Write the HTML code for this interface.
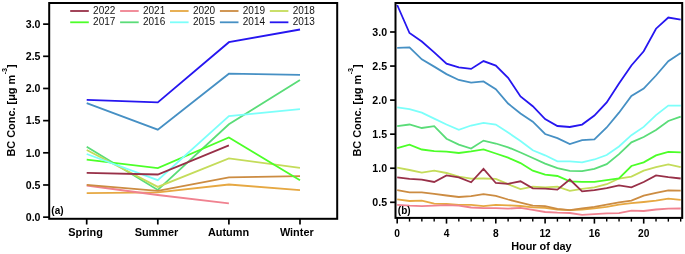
<!DOCTYPE html><html><head><meta charset="utf-8"><style>html,body{margin:0;padding:0;background:#fff;}svg{display:block;will-change:transform;}text{font-family:"Liberation Sans",sans-serif;}</style></head><body>
<svg width="685" height="254" viewBox="0 0 685 254">
<rect width="685" height="254" fill="#fff"/>
<clipPath id="cl"><rect x="49.2" y="3.0" width="288.0" height="215.8"/></clipPath>
<g clip-path="url(#cl)">
<polyline points="86.7,99.8 157.8,102.4 228.9,42.2 300.0,29.5" fill="none" stroke="#2616F0" stroke-width="1.8" stroke-linejoin="miter" stroke-miterlimit="3"/>
<polyline points="86.7,103.1 157.8,129.7 228.9,73.7 300.0,74.8" fill="none" stroke="#4690C4" stroke-width="1.8" stroke-linejoin="miter" stroke-miterlimit="3"/>
<polyline points="86.7,146.7 157.8,190.0 228.9,124.3 300.0,79.9" fill="none" stroke="#5ADC78" stroke-width="1.8" stroke-linejoin="miter" stroke-miterlimit="3"/>
<polyline points="86.7,150.0 157.8,186.9 228.9,158.4 300.0,167.9" fill="none" stroke="#C4DC5A" stroke-width="1.8" stroke-linejoin="miter" stroke-miterlimit="3"/>
<polyline points="86.7,193.1 157.8,192.4 228.9,184.5 300.0,190.2" fill="none" stroke="#E6A842" stroke-width="1.8" stroke-linejoin="miter" stroke-miterlimit="3"/>
<polyline points="86.7,185.5 157.8,195.0 228.9,203.4" fill="none" stroke="#F08290" stroke-width="1.8" stroke-linejoin="miter" stroke-miterlimit="3"/>
<polyline points="86.7,184.8 157.8,190.8 228.9,177.3 300.0,176.2" fill="none" stroke="#CC8C42" stroke-width="1.8" stroke-linejoin="miter" stroke-miterlimit="3"/>
<polyline points="86.7,159.6 157.8,168.2 228.9,137.5 300.0,180.2" fill="none" stroke="#4CFF28" stroke-width="1.8" stroke-linejoin="miter" stroke-miterlimit="3"/>
<polyline points="86.7,154.0 157.8,180.2 228.9,116.0 300.0,109.1" fill="none" stroke="#7CFFFA" stroke-width="1.8" stroke-linejoin="miter" stroke-miterlimit="3"/>
<polyline points="86.7,172.8 157.8,174.5 228.9,145.4" fill="none" stroke="#983048" stroke-width="1.8" stroke-linejoin="miter" stroke-miterlimit="3"/>
</g>
<line x1="70.2" y1="11.0" x2="88.8" y2="11.0" stroke="#983048" stroke-width="1.8"/>
<text x="93.1" y="13.75" font-size="10.0" fill="#111">2022</text>
<line x1="120.1" y1="11.0" x2="138.7" y2="11.0" stroke="#F08290" stroke-width="1.8"/>
<text x="143.0" y="13.75" font-size="10.0" fill="#111">2021</text>
<line x1="170.0" y1="11.0" x2="188.6" y2="11.0" stroke="#E6A842" stroke-width="1.8"/>
<text x="192.9" y="13.75" font-size="10.0" fill="#111">2020</text>
<line x1="219.9" y1="11.0" x2="238.5" y2="11.0" stroke="#CC8C42" stroke-width="1.8"/>
<text x="242.8" y="13.75" font-size="10.0" fill="#111">2019</text>
<line x1="269.8" y1="11.0" x2="288.4" y2="11.0" stroke="#C4DC5A" stroke-width="1.8"/>
<text x="292.7" y="13.75" font-size="10.0" fill="#111">2018</text>
<line x1="70.2" y1="22.3" x2="88.8" y2="22.3" stroke="#4CFF28" stroke-width="1.8"/>
<text x="93.1" y="25.05" font-size="10.0" fill="#111">2017</text>
<line x1="120.1" y1="22.3" x2="138.7" y2="22.3" stroke="#5ADC78" stroke-width="1.8"/>
<text x="143.0" y="25.05" font-size="10.0" fill="#111">2016</text>
<line x1="170.0" y1="22.3" x2="188.6" y2="22.3" stroke="#7CFFFA" stroke-width="1.8"/>
<text x="192.9" y="25.05" font-size="10.0" fill="#111">2015</text>
<line x1="219.9" y1="22.3" x2="238.5" y2="22.3" stroke="#4690C4" stroke-width="1.8"/>
<text x="242.8" y="25.05" font-size="10.0" fill="#111">2014</text>
<line x1="269.8" y1="22.3" x2="288.4" y2="22.3" stroke="#2616F0" stroke-width="1.8"/>
<text x="292.7" y="25.05" font-size="10.0" fill="#111">2013</text>
<rect x="49.2" y="3.0" width="288.0" height="215.8" fill="none" stroke="#000" stroke-width="2.0"/>
<line x1="43.1" y1="217.15" x2="49.2" y2="217.15" stroke="#000" stroke-width="1.7"/>
<text x="40.5" y="220.90" font-size="10.6" font-weight="bold" text-anchor="end" fill="#000">0.0</text>
<line x1="43.1" y1="184.98" x2="49.2" y2="184.98" stroke="#000" stroke-width="1.7"/>
<text x="40.5" y="188.73" font-size="10.6" font-weight="bold" text-anchor="end" fill="#000">0.5</text>
<line x1="43.1" y1="152.81" x2="49.2" y2="152.81" stroke="#000" stroke-width="1.7"/>
<text x="40.5" y="156.56" font-size="10.6" font-weight="bold" text-anchor="end" fill="#000">1.0</text>
<line x1="43.1" y1="120.64" x2="49.2" y2="120.64" stroke="#000" stroke-width="1.7"/>
<text x="40.5" y="124.39" font-size="10.6" font-weight="bold" text-anchor="end" fill="#000">1.5</text>
<line x1="43.1" y1="88.47" x2="49.2" y2="88.47" stroke="#000" stroke-width="1.7"/>
<text x="40.5" y="92.22" font-size="10.6" font-weight="bold" text-anchor="end" fill="#000">2.0</text>
<line x1="43.1" y1="56.30" x2="49.2" y2="56.30" stroke="#000" stroke-width="1.7"/>
<text x="40.5" y="60.05" font-size="10.6" font-weight="bold" text-anchor="end" fill="#000">2.5</text>
<line x1="43.1" y1="24.13" x2="49.2" y2="24.13" stroke="#000" stroke-width="1.7"/>
<text x="40.5" y="27.88" font-size="10.6" font-weight="bold" text-anchor="end" fill="#000">3.0</text>
<line x1="86.7" y1="218.8" x2="86.7" y2="224.5" stroke="#000" stroke-width="1.7"/>
<text x="85.6" y="235.8" font-size="10.9" font-weight="bold" text-anchor="middle" fill="#000">Spring</text>
<line x1="157.8" y1="218.8" x2="157.8" y2="224.5" stroke="#000" stroke-width="1.7"/>
<text x="156.5" y="235.8" font-size="10.9" font-weight="bold" text-anchor="middle" fill="#000">Summer</text>
<line x1="228.9" y1="218.8" x2="228.9" y2="224.5" stroke="#000" stroke-width="1.7"/>
<text x="228.5" y="235.8" font-size="10.9" font-weight="bold" text-anchor="middle" fill="#000">Autumn</text>
<line x1="300.0" y1="218.8" x2="300.0" y2="224.5" stroke="#000" stroke-width="1.7"/>
<text x="296.8" y="235.8" font-size="10.9" font-weight="bold" text-anchor="middle" fill="#000">Winter</text>
<text x="51.3" y="214.2" font-size="10" font-weight="bold" fill="#000">(a)</text>
<text transform="translate(14.5,110.4) rotate(-90)" font-size="10.9" font-weight="bold" text-anchor="middle" fill="#000">BC Conc. [μg m<tspan font-size="7.2" dy="-8" dx="0.5">-3</tspan><tspan dy="8">]</tspan></text>
<clipPath id="cr"><rect x="395.5" y="3.0" width="286.70000000000005" height="214.9"/></clipPath>
<g clip-path="url(#cr)">
<polyline points="397.2,5.0 409.5,33.0 421.8,41.5 434.2,52.4 446.5,63.7 458.8,67.3 471.1,68.9 483.5,61.1 495.8,65.6 508.1,77.8 520.5,96.5 532.8,106.2 545.1,119.0 557.4,126.0 569.8,127.0 582.1,124.6 594.4,115.6 606.7,102.4 619.0,83.5 631.4,65.5 643.7,51.3 656.0,28.7 668.3,17.5 680.7,19.7" fill="none" stroke="#2616F0" stroke-width="1.8" stroke-linejoin="miter" stroke-miterlimit="3"/>
<polyline points="397.2,47.9 409.5,47.4 421.8,59.3 434.2,66.6 446.5,74.1 458.8,80.0 471.1,82.6 483.5,81.4 495.8,89.2 508.1,103.5 520.5,113.5 532.8,121.7 545.1,134.0 557.4,138.1 569.8,144.1 582.1,140.2 594.4,139.3 606.7,127.5 619.0,112.7 631.4,96.0 643.7,88.5 656.0,75.5 668.3,61.2 680.7,53.0" fill="none" stroke="#4690C4" stroke-width="1.8" stroke-linejoin="miter" stroke-miterlimit="3"/>
<polyline points="397.2,126.2 409.5,124.5 421.8,128.0 434.2,126.2 446.5,138.7 458.8,144.6 471.1,148.5 483.5,140.6 495.8,143.5 508.1,147.3 520.5,152.5 532.8,158.0 545.1,163.6 557.4,168.2 569.8,170.8 582.1,171.2 594.4,168.9 606.7,164.2 619.0,154.1 631.4,142.3 643.7,137.0 656.0,130.0 668.3,121.0 680.7,116.7" fill="none" stroke="#5ADC78" stroke-width="1.8" stroke-linejoin="miter" stroke-miterlimit="3"/>
<polyline points="397.2,167.6 409.5,170.0 421.8,172.6 434.2,170.7 446.5,173.0 458.8,176.6 471.1,178.7 483.5,178.5 495.8,178.9 508.1,184.2 520.5,189.1 532.8,186.7 545.1,187.4 557.4,186.6 569.8,190.8 582.1,188.9 594.4,187.3 606.7,184.2 619.0,178.5 631.4,176.6 643.7,170.7 656.0,167.2 668.3,164.3 680.7,167.2" fill="none" stroke="#C4DC5A" stroke-width="1.8" stroke-linejoin="miter" stroke-miterlimit="3"/>
<polyline points="397.2,199.3 409.5,201.0 421.8,200.7 434.2,203.6 446.5,204.0 458.8,204.8 471.1,204.8 483.5,206.1 495.8,204.8 508.1,205.3 520.5,206.0 532.8,207.3 545.1,207.8 557.4,209.5 569.8,210.1 582.1,209.5 594.4,208.3 606.7,206.9 619.0,204.6 631.4,203.2 643.7,202.0 656.0,200.7 668.3,198.7 680.7,199.9" fill="none" stroke="#E6A842" stroke-width="1.8" stroke-linejoin="miter" stroke-miterlimit="3"/>
<polyline points="397.2,204.8 409.5,205.6 421.8,206.1 434.2,205.6 446.5,205.1 458.8,205.6 471.1,207.5 483.5,208.1 495.8,208.1 508.1,208.6 520.5,207.8 532.8,209.8 545.1,212.0 557.4,212.7 569.8,213.0 582.1,214.9 594.4,214.1 606.7,213.4 619.0,213.2 631.4,210.6 643.7,211.0 656.0,209.5 668.3,208.6 680.7,208.5" fill="none" stroke="#F08290" stroke-width="1.8" stroke-linejoin="miter" stroke-miterlimit="3"/>
<polyline points="397.2,190.1 409.5,192.4 421.8,192.4 434.2,193.9 446.5,195.5 458.8,197.0 471.1,196.2 483.5,194.1 495.8,195.8 508.1,199.5 520.5,202.6 532.8,205.6 545.1,206.1 557.4,208.8 569.8,210.1 582.1,208.3 594.4,206.9 606.7,204.7 619.0,202.4 631.4,200.7 643.7,195.7 656.0,192.9 668.3,190.3 680.7,190.6" fill="none" stroke="#CC8C42" stroke-width="1.8" stroke-linejoin="miter" stroke-miterlimit="3"/>
<polyline points="397.2,148.2 409.5,144.6 421.8,149.5 434.2,151.1 446.5,151.7 458.8,153.0 471.1,151.4 483.5,149.4 495.8,153.5 508.1,157.7 520.5,163.1 532.8,170.7 545.1,174.6 557.4,176.0 569.8,181.4 582.1,181.9 594.4,181.9 606.7,180.2 619.0,178.4 631.4,166.0 643.7,162.4 656.0,155.4 668.3,151.8 680.7,152.3" fill="none" stroke="#4CFF28" stroke-width="1.8" stroke-linejoin="miter" stroke-miterlimit="3"/>
<polyline points="397.2,107.3 409.5,109.2 421.8,112.7 434.2,118.6 446.5,124.5 458.8,129.9 471.1,125.5 483.5,122.8 495.8,124.5 508.1,132.5 520.5,141.0 532.8,150.3 545.1,155.3 557.4,161.3 569.8,161.3 582.1,162.3 594.4,159.5 606.7,155.0 619.0,146.5 631.4,135.2 643.7,126.9 656.0,115.1 668.3,105.6 680.7,105.6" fill="none" stroke="#7CFFFA" stroke-width="1.8" stroke-linejoin="miter" stroke-miterlimit="3"/>
<polyline points="397.2,177.3 409.5,178.9 421.8,179.6 434.2,182.0 446.5,175.4 458.8,177.3 471.1,182.3 483.5,168.8 495.8,183.0 508.1,183.8 520.5,181.3 532.8,188.4 545.1,188.6 557.4,189.6 569.8,179.5 582.1,191.3 594.4,190.1 606.7,188.2 619.0,185.3 631.4,187.3 643.7,182.0 656.0,175.4 668.3,177.1 680.7,178.5" fill="none" stroke="#983048" stroke-width="1.8" stroke-linejoin="miter" stroke-miterlimit="3"/>
</g>
<rect x="395.5" y="3.0" width="286.70000000000005" height="214.9" fill="none" stroke="#000" stroke-width="2.0"/>
<line x1="390.1" y1="202.30" x2="395.5" y2="202.30" stroke="#000" stroke-width="1.7"/>
<text x="387.1" y="206.05" font-size="10.6" font-weight="bold" text-anchor="end" fill="#000">0.5</text>
<line x1="390.1" y1="168.24" x2="395.5" y2="168.24" stroke="#000" stroke-width="1.7"/>
<text x="387.1" y="171.99" font-size="10.6" font-weight="bold" text-anchor="end" fill="#000">1.0</text>
<line x1="390.1" y1="134.18" x2="395.5" y2="134.18" stroke="#000" stroke-width="1.7"/>
<text x="387.1" y="137.93" font-size="10.6" font-weight="bold" text-anchor="end" fill="#000">1.5</text>
<line x1="390.1" y1="100.12" x2="395.5" y2="100.12" stroke="#000" stroke-width="1.7"/>
<text x="387.1" y="103.87" font-size="10.6" font-weight="bold" text-anchor="end" fill="#000">2.0</text>
<line x1="390.1" y1="66.06" x2="395.5" y2="66.06" stroke="#000" stroke-width="1.7"/>
<text x="387.1" y="69.81" font-size="10.6" font-weight="bold" text-anchor="end" fill="#000">2.5</text>
<line x1="390.1" y1="32.00" x2="395.5" y2="32.00" stroke="#000" stroke-width="1.7"/>
<text x="387.1" y="35.75" font-size="10.6" font-weight="bold" text-anchor="end" fill="#000">3.0</text>
<line x1="397.20" y1="217.9" x2="397.20" y2="223.6" stroke="#000" stroke-width="1.6"/>
<text x="397.20" y="236.6" font-size="10.2" font-weight="bold" text-anchor="middle" fill="#000">0</text>
<line x1="409.52" y1="217.9" x2="409.52" y2="221.6" stroke="#000" stroke-width="1.4"/>
<line x1="421.85" y1="217.9" x2="421.85" y2="221.6" stroke="#000" stroke-width="1.4"/>
<line x1="434.17" y1="217.9" x2="434.17" y2="221.6" stroke="#000" stroke-width="1.4"/>
<line x1="446.50" y1="217.9" x2="446.50" y2="223.6" stroke="#000" stroke-width="1.6"/>
<text x="446.50" y="236.6" font-size="10.2" font-weight="bold" text-anchor="middle" fill="#000">4</text>
<line x1="458.82" y1="217.9" x2="458.82" y2="221.6" stroke="#000" stroke-width="1.4"/>
<line x1="471.15" y1="217.9" x2="471.15" y2="221.6" stroke="#000" stroke-width="1.4"/>
<line x1="483.47" y1="217.9" x2="483.47" y2="221.6" stroke="#000" stroke-width="1.4"/>
<line x1="495.80" y1="217.9" x2="495.80" y2="223.6" stroke="#000" stroke-width="1.6"/>
<text x="495.80" y="236.6" font-size="10.2" font-weight="bold" text-anchor="middle" fill="#000">8</text>
<line x1="508.12" y1="217.9" x2="508.12" y2="221.6" stroke="#000" stroke-width="1.4"/>
<line x1="520.45" y1="217.9" x2="520.45" y2="221.6" stroke="#000" stroke-width="1.4"/>
<line x1="532.77" y1="217.9" x2="532.77" y2="221.6" stroke="#000" stroke-width="1.4"/>
<line x1="545.10" y1="217.9" x2="545.10" y2="223.6" stroke="#000" stroke-width="1.6"/>
<text x="545.10" y="236.6" font-size="10.2" font-weight="bold" text-anchor="middle" fill="#000">12</text>
<line x1="557.42" y1="217.9" x2="557.42" y2="221.6" stroke="#000" stroke-width="1.4"/>
<line x1="569.75" y1="217.9" x2="569.75" y2="221.6" stroke="#000" stroke-width="1.4"/>
<line x1="582.08" y1="217.9" x2="582.08" y2="221.6" stroke="#000" stroke-width="1.4"/>
<line x1="594.40" y1="217.9" x2="594.40" y2="223.6" stroke="#000" stroke-width="1.6"/>
<text x="594.40" y="236.6" font-size="10.2" font-weight="bold" text-anchor="middle" fill="#000">16</text>
<line x1="606.72" y1="217.9" x2="606.72" y2="221.6" stroke="#000" stroke-width="1.4"/>
<line x1="619.05" y1="217.9" x2="619.05" y2="221.6" stroke="#000" stroke-width="1.4"/>
<line x1="631.38" y1="217.9" x2="631.38" y2="221.6" stroke="#000" stroke-width="1.4"/>
<line x1="643.70" y1="217.9" x2="643.70" y2="223.6" stroke="#000" stroke-width="1.6"/>
<text x="643.70" y="236.6" font-size="10.2" font-weight="bold" text-anchor="middle" fill="#000">20</text>
<line x1="656.02" y1="217.9" x2="656.02" y2="221.6" stroke="#000" stroke-width="1.4"/>
<line x1="668.35" y1="217.9" x2="668.35" y2="221.6" stroke="#000" stroke-width="1.4"/>
<line x1="680.67" y1="217.9" x2="680.67" y2="221.6" stroke="#000" stroke-width="1.4"/>
<text x="541.4" y="249.6" font-size="10.9" font-weight="bold" text-anchor="middle" fill="#000">Hour of day</text>
<text x="397.8" y="213.6" font-size="10" font-weight="bold" fill="#000">(b)</text>
<text transform="translate(360.5,110.4) rotate(-90)" font-size="10.9" font-weight="bold" text-anchor="middle" fill="#000">BC Conc. [μg m<tspan font-size="7.2" dy="-8" dx="0.5">-3</tspan><tspan dy="8">]</tspan></text>
</svg></body></html>
